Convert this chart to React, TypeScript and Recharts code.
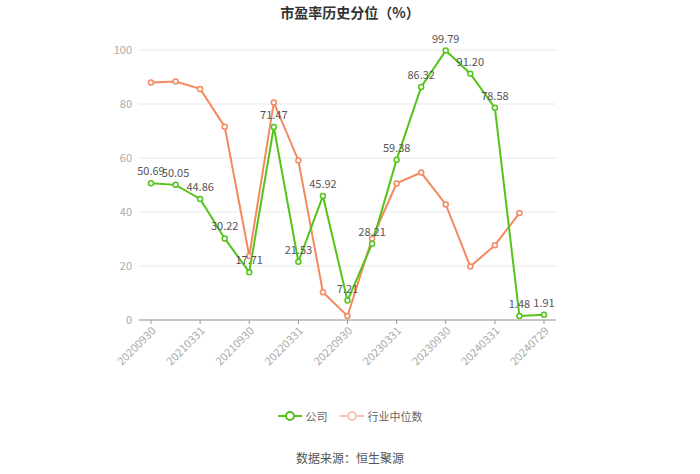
import React from "react";
import { LineChart, Line, XAxis, YAxis, CartesianGrid, LabelList } from "recharts";

const dates = [
  "20200930", "20201231", "20210331", "20210630", "20210930", "20211231",
  "20220331", "20220630", "20220930", "20221231", "20230331", "20230630",
  "20230930", "20231231", "20240331", "20240630", "20240729",
];
const company = [
  50.69, 50.05, 44.86, 30.22, 17.71, 71.47, 21.53, 45.92, 7.21, 28.21,
  59.38, 86.32, 99.79, 91.2, 78.58, 1.48, 1.91,
];
const industry: (number | null)[] = [
  88.0, 88.3, 85.6, 71.6, 23.7, 80.6, 59.1, 10.3, 1.5, 30.1,
  50.6, 54.6, 42.8, 19.8, 27.7, 39.6, null,
];
const yTicks = [0, 20, 40, 60, 80, 100];

const GREEN = "#52c41a";
const ORANGE = "#f4895f";
const FONT = "'Noto Sans CJK SC', 'Noto Sans', sans-serif";

const data = dates.map((d, i) => ({ date: d, company: company[i], industry: industry[i] }));

export default function App() {
  return (
    <div style={{ position: "absolute", left: 0, top: 0, width: 700, height: 474, background: "#fff", fontFamily: FONT }}>
      <div style={{ position: "absolute", top: 2, width: 700, textAlign: "center", fontSize: 14, fontWeight: "bold", color: "#333" }}>
        市盈率历史分位（%）
      </div>
      <LineChart width={700} height={474} data={data} margin={{ top: 50, right: 144, bottom: 94, left: 99 }}>
        <CartesianGrid vertical={false} stroke="#e8e8e8" />
        <XAxis
          dataKey="date"
          interval={1}
          padding={{ left: 12, right: 12 }}
          angle={-45}
          textAnchor="end"
          height={60}
          tick={{ fontSize: 11, fill: "#aaa", fontFamily: FONT, stroke: "none" }}
          tickSize={4}
          axisLine={{ stroke: "#999" }}
          tickLine={{ stroke: "#999" }}
        />
        <YAxis
          domain={[0, 100]}
          ticks={yTicks}
          width={40}
          axisLine={false}
          tickLine={false}
          tickSize={0}
          tickMargin={7}
          tick={{ fontSize: 11, fill: "#aaa", fontFamily: FONT, stroke: "none" }}
        />
        <Line
          dataKey="industry"
          stroke={ORANGE}
          strokeWidth={2}
          dot={{ r: 2.5, fill: "#fff", stroke: ORANGE, strokeWidth: 1.5 }}
          isAnimationActive={false}
        />
        <Line
          dataKey="company"
          stroke={GREEN}
          strokeWidth={2}
          dot={{ r: 2.5, fill: "#fff", stroke: GREEN, strokeWidth: 1.5 }}
          isAnimationActive={false}
        >
          <LabelList
            dataKey="company"
            position="top"
            offset={8}
            formatter={(v: number) => v.toFixed(2)}
            style={{ fontSize: 11, fill: "#555", fontFamily: FONT }}
          />
        </Line>
      </LineChart>
      <div style={{ position: "absolute", top: 408, left: 0, width: 700, display: "flex", justifyContent: "center", fontSize: 11, color: "#666", gap: 12 }}>
        <span style={{ display: "flex", alignItems: "center", gap: 4 }}>
          <svg width={24} height={12}>
            <line x1={0} y1={6} x2={24} y2={6} stroke={GREEN} strokeWidth={2} />
            <circle cx={12} cy={6} r={4} fill="#fff" stroke={GREEN} strokeWidth={2} />
          </svg>
          公司
        </span>
        <span style={{ display: "flex", alignItems: "center", gap: 4 }}>
          <svg width={24} height={12}>
            <line x1={0} y1={6} x2={24} y2={6} stroke="#f5c3ae" strokeWidth={2} />
            <circle cx={12} cy={6} r={4} fill="#fff" stroke="#f5c3ae" strokeWidth={2} />
          </svg>
          行业中位数
        </span>
      </div>
      <div style={{ position: "absolute", top: 449, width: 700, textAlign: "center", fontSize: 12, color: "#555" }}>
        数据来源：恒生聚源
      </div>
    </div>
  );
}
